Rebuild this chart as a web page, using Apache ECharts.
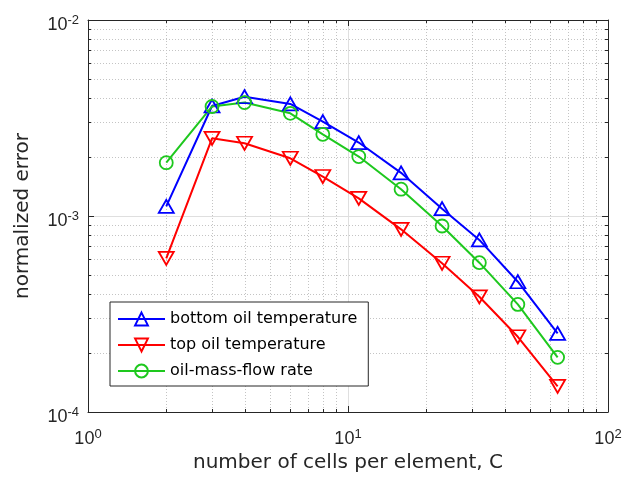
<!DOCTYPE html>
<html>
<head>
<meta charset="utf-8">
<script src="https://cdn.jsdelivr.net/npm/echarts@6/dist/echarts.min.js"></script>
<style>
html,body{margin:0;padding:0;background:#fff;}
#c{width:627px;height:486px;}
</style>
</head>
<body>
<div id="c"></div>
<script>
// ---- data ----
const cells = [2, 3, 4, 6, 8, 11, 16, 23, 32, 45, 64];
const bottomOilTemp = [1.12e-3, 3.64e-3, 4.06e-3, 3.73e-3, 3.03e-3, 2.37e-3, 1.66e-3, 1.09e-3, 7.55e-4, 4.62e-4, 2.52e-4];
const topOilTemp    = [6.08e-4, 2.49e-3, 2.35e-3, 1.97e-3, 1.59e-3, 1.23e-3, 8.55e-4, 5.74e-4, 3.87e-4, 2.42e-4, 1.35e-4];
const oilMassFlow   = [1.87e-3, 3.62e-3, 3.79e-3, 3.34e-3, 2.61e-3, 2.01e-3, 1.37e-3, 8.89e-4, 5.78e-4, 3.54e-4, 1.90e-4];
const seriesNames = ['bottom oil temperature', 'top oil temperature', 'oil-mass-flow rate'];
const xRange = [1, 100];
const yRange = [1e-4, 1e-2];
const xMinorValues = [2,3,4,5,6,7,8,9,20,30,40,50,60,70,80,90];
const yMinorValues = [2e-4,3e-4,4e-4,5e-4,6e-4,7e-4,8e-4,9e-4,2e-3,3e-3,4e-3,5e-3,6e-3,7e-3,8e-3,9e-3];
const xTitle = 'number of cells per element, C';
const yTitle = 'normalized error';

const AX = '#262626';
const BLUE = '#0000ff', RED = '#ff0000', GREEN = '#1ec81e';

function pow10Label(v) {
  const e = Math.round(Math.log10(v));
  return '{b|10}{s|' + e + '}';
}
const richX = {
  b: {fontFamily: 'Liberation Sans', fontSize: 18, lineHeight: 20, verticalAlign: 'bottom', color: AX},
  s: {fontFamily: 'Liberation Sans', fontSize: 13, lineHeight: 6, verticalAlign: 'top', color: AX}
};

function mk(name, data, color, rot) {
  return {
    name: name,
    type: 'line',
    data: cells.map((c, i) => [c, data[i]]),
    symbol: 'triangle',
    symbolRotate: rot,
    symbolSize: [15, 13],
    lineStyle: {color: color, width: 2},
    itemStyle: {color: 'rgba(255,255,255,0)', borderColor: color, borderWidth: 1.8},
    emphasis: {disabled: true},
    z: 5
  };
}
const sBottom = mk(seriesNames[0], bottomOilTemp, BLUE, 0);
const sTop = mk(seriesNames[1], topOilTemp, RED, 180);
const sFlow = mk(seriesNames[2], oilMassFlow, GREEN, 0);
sFlow.symbol = 'circle';
sFlow.symbolSize = 13;

const chart = echarts.init(document.getElementById('c'), null, {renderer: 'canvas'});
const gridCfg = {left: 88, right: 19, top: 20, bottom: 74};
chart.setOption({
  animation: false,
  backgroundColor: '#ffffff',
  grid: Object.assign({containLabel: false}, gridCfg),
  legend: {
    orient: 'vertical',
    left: 110, top: 302,
    padding: [9, 11, 7, 7],
    itemGap: 10,
    itemWidth: 47,
    itemHeight: 16,
    backgroundColor: '#ffffff',
    borderColor: AX,
    borderWidth: 1,
    borderRadius: 0,
    textStyle: {fontFamily: 'DejaVu Sans', fontSize: 16, color: '#000', lineHeight: 16},
    data: seriesNames
  },
  xAxis: [{
    type: 'log', logBase: 10, min: xRange[0], max: xRange[1],
    position: 'bottom',
    name: xTitle, nameLocation: 'middle', nameGap: 34,
    nameTextStyle: {fontFamily: 'DejaVu Sans', fontSize: 20, color: AX},
    axisLine: {show: true, onZero: false, lineStyle: {color: AX, width: 1}},
    axisTick: {show: true, inside: true, length: 6, lineStyle: {color: AX}},
    axisLabel: {margin: 16, formatter: pow10Label, rich: richX},
    splitLine: {show: true, lineStyle: {color: '#dfdfdf', width: 1}},
    minorTick: {show: false}
  }, {
    type: 'log', logBase: 10, min: xRange[0], max: xRange[1],
    position: 'top',
    axisLine: {show: true, onZero: false, lineStyle: {color: AX, width: 1}},
    axisTick: {show: true, inside: true, length: 6, lineStyle: {color: AX}},
    axisLabel: {show: false},
    splitLine: {show: false}
  }],
  yAxis: [{
    type: 'log', logBase: 10, min: yRange[0], max: yRange[1],
    position: 'left',
    name: yTitle, nameLocation: 'middle', nameGap: 55,
    nameTextStyle: {fontFamily: 'DejaVu Sans', fontSize: 20, color: AX},
    axisLine: {show: true, onZero: false, lineStyle: {color: AX, width: 1}},
    axisTick: {show: true, inside: true, length: 6, lineStyle: {color: AX}},
    axisLabel: {margin: 9, formatter: pow10Label, rich: richX, padding: [8, 0, 0, 0]},
    splitLine: {show: true, lineStyle: {color: '#dfdfdf', width: 1}}
  }, {
    type: 'log', logBase: 10, min: yRange[0], max: yRange[1],
    position: 'right',
    axisLine: {show: true, onZero: false, lineStyle: {color: AX, width: 1}},
    axisTick: {show: true, inside: true, length: 6, lineStyle: {color: AX}},
    axisLabel: {show: false},
    splitLine: {show: false}
  }],
  series: [sBottom, sTop, sFlow]
});

// minor grid lines and minor ticks, positioned through the axes' own scales
const W = 627, H = 486;
const gl = gridCfg.left, gr = W - gridCfg.right, gt = gridCfg.top, gb = H - gridCfg.bottom;
const els = [];
const dash = {stroke: '#c4c4c4', lineWidth: 1, lineDash: [1, 2]};
xMinorValues.forEach(v => {
  const px = Math.round(chart.convertToPixel({xAxisIndex: 0}, v)) + 0.5;
  els.push({type: 'line', z: 1, silent: true, shape: {x1: px, y1: gt, x2: px, y2: gb}, style: dash});
  els.push({type: 'line', z: 6, silent: true, shape: {x1: px, y1: gb, x2: px, y2: gb - 3}, style: {stroke: AX, lineWidth: 1}});
  els.push({type: 'line', z: 6, silent: true, shape: {x1: px, y1: gt, x2: px, y2: gt + 3}, style: {stroke: AX, lineWidth: 1}});
});
yMinorValues.forEach(v => {
  const py = Math.round(chart.convertToPixel({yAxisIndex: 0}, v)) + 0.5;
  els.push({type: 'line', z: 1, silent: true, shape: {x1: gl, y1: py, x2: gr, y2: py}, style: dash});
  els.push({type: 'line', z: 6, silent: true, shape: {x1: gl, y1: py, x2: gl + 3, y2: py}, style: {stroke: AX, lineWidth: 1}});
  els.push({type: 'line', z: 6, silent: true, shape: {x1: gr, y1: py, x2: gr - 3, y2: py}, style: {stroke: AX, lineWidth: 1}});
});
chart.setOption({graphic: {elements: els}});
</script>
</body>
</html>
